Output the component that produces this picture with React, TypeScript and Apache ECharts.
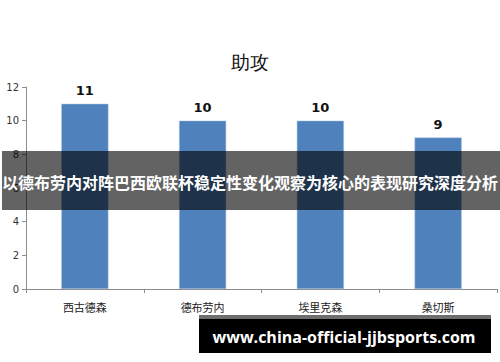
import React, { useEffect, useRef } from "react";
import * as echarts from "echarts";

const categories = ["西古德森", "德布劳内", "埃里克森", "桑切斯"];
const assists = [11, 10, 10, 9];
const titleText = "助攻";
const bannerText = "以德布劳内对阵巴西欧联杯稳定性变化观察为核心的表现研究深度分析";
const footerText = "www.china-official-jjbsports.com";

export default function App() {
  const ref = useRef<HTMLDivElement>(null);
  useEffect(() => {
    if (!ref.current) return;
    const chart = echarts.init(ref.current, null, { renderer: "svg" });
    chart.setOption({
      animation: false,
      backgroundColor: "#ffffff",
      title: {
        text: titleText,
        left: "center",
        top: 48,
        textStyle: {
          fontSize: 19,
          fontWeight: "normal",
          color: "#111",
          fontFamily: "serif",
        },
      },
      grid: { left: 26, right: 3, top: 87, bottom: 73 },
      xAxis: {
        type: "category",
        data: categories,
        axisLine: { lineStyle: { color: "#8c8c8c", width: 1 } },
        axisTick: { show: true, length: 4, lineStyle: { color: "#8c8c8c" } },
        axisLabel: {
          fontSize: 11,
          color: "#222",
          margin: 12,
          fontFamily: "Noto Sans CJK SC",
        },
      },
      yAxis: {
        type: "value",
        min: 0,
        max: 12,
        interval: 2,
        splitLine: { show: false },
        axisLine: { show: true, lineStyle: { color: "#8c8c8c", width: 1 } },
        axisTick: { show: true, length: 4, lineStyle: { color: "#8c8c8c" } },
        axisLabel: {
          fontSize: 10,
          color: "#333",
          margin: 7,
          fontFamily: "DejaVu Sans",
        },
      },
      series: [
        {
          type: "bar",
          data: assists,
          barWidth: "40%",
          itemStyle: { color: "#4F81BD", borderColor: "#a9c1de", borderWidth: 0.5 },
          label: {
            show: true,
            position: "top",
            distance: 7,
            fontSize: 13,
            fontWeight: "bold",
            color: "#111",
            fontFamily: "DejaVu Sans",
          },
        },
      ],
      graphic: [
        {
          type: "rect",
          z: 100,
          shape: { x: 2, y: 151, width: 498, height: 59 },
          style: { fill: "rgba(0,0,0,0.61)" },
        },
        {
          type: "text",
          z: 101,
          x: 250,
          y: 182,
          style: {
            text: bannerText,
            fill: "#ffffff",
            fontSize: 16,
            fontWeight: "bold",
            fontFamily: "Noto Sans CJK SC",
            textAlign: "center",
            textVerticalAlign: "middle",
          },
        },
        {
          type: "rect",
          z: 100,
          shape: { x: 199, y: 315, width: 292, height: 4 },
          style: { fill: "#6e6e6e" },
        },
        {
          type: "rect",
          z: 100,
          shape: { x: 199, y: 319, width: 292, height: 34 },
          style: { fill: "#000000" },
        },
        {
          type: "text",
          z: 101,
          x: 344,
          y: 337,
          style: {
            text: footerText,
            fill: "#ffffff",
            fontSize: 16,
            fontWeight: "bold",
            fontFamily: "Open Sans",
            textAlign: "center",
            textVerticalAlign: "middle",
          },
        },
      ],
    });
    return () => chart.dispose();
  }, []);
  return <div ref={ref} style={{ width: 500, height: 362, position: "absolute", left: 0, top: 0 }} />;
}
